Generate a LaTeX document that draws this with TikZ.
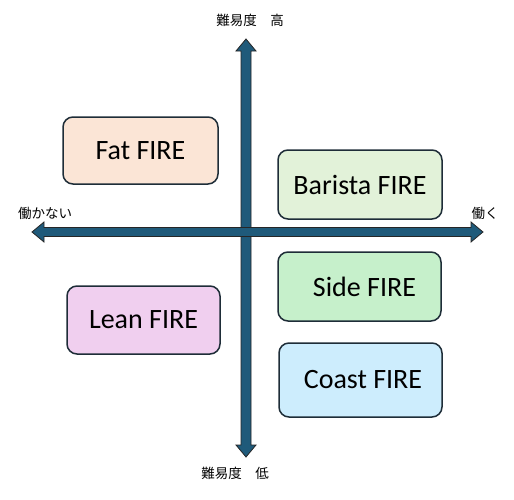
\documentclass[tikz,border=0pt]{standalone}
\usepackage{fontspec}
\setmainfont{Carlito}
\newfontfamily\jpfont{Noto Sans CJK JP}
\definecolor{ejeazul}{HTML}{1F5A7A}
\definecolor{bordecaja}{HTML}{1E2D38}
\definecolor{fatcol}{HTML}{FBE5D6}
\definecolor{baristacol}{HTML}{E2F2D9}
\definecolor{sidecol}{HTML}{C6F0CB}
\definecolor{leancol}{HTML}{F0CFEF}
\definecolor{coastcol}{HTML}{CDEDFD}
\begin{document}
\begin{tikzpicture}[
      x=1pt, y=-1pt,
      caja/.style={draw=bordecaja, line width=1.5pt, rounded corners=10pt,
        minimum width=163pt, minimum height=69pt, inner sep=2pt,
        font=\fontsize{28}{32}\selectfont},
      eje/.style={draw=black!85, fill=ejeazul, line width=0.8pt, line join=miter},
      etiqueta/.style={font=\jpfont\fontsize{13.5}{15}\selectfont, inner sep=0pt}
    ]
    \useasboundingbox (0,0) rectangle (514,499);
    % Ejes con puntas en ambos extremos (vertical primero, horizontal encima)
    \filldraw[eje] (246,39) -- (256,51) -- (251,51) -- (251,445) -- (256,445)
      -- (246,457) -- (236,445) -- (241,445) -- (241,51) -- (236,51) -- cycle;
    \filldraw[eje] (32,232) -- (44,222) -- (44,227.5) -- (471,227.5) -- (471,222)
      -- (483,232) -- (471,242) -- (471,236.5) -- (44,236.5) -- (44,242) -- cycle;
    % Etiquetas de los ejes
    \node[etiqueta] (alto)  at (250,20)  {難易度　高};
    \node[etiqueta] (bajo)  at (235,473) {難易度　低};
    \node[etiqueta] (nowork) at (45,213) {働かない};
    \node[etiqueta] (work)  at (485,213) {働く};
    % Cajas de cada tipo de FIRE
    \node[caja, fill=fatcol, minimum width=155pt, minimum height=67pt] (fat) at (140.5,150.5) {Fat FIRE};
    \node[caja, fill=baristacol, minimum width=164pt] (barista) at (360,184.5) {Barista FIRE};
    \node[caja, fill=sidecol] (side) at (359.5,286.5) {\hspace{10pt}Side FIRE};
    \node[caja, fill=leancol, minimum width=153pt, minimum height=68pt] (lean) at (143.5,320) {Lean FIRE};
    \node[caja, fill=coastcol, minimum height=74pt] (coast) at (360.5,380) {\hspace{5pt}Coast FIRE};
  \end{tikzpicture}
\end{document}
